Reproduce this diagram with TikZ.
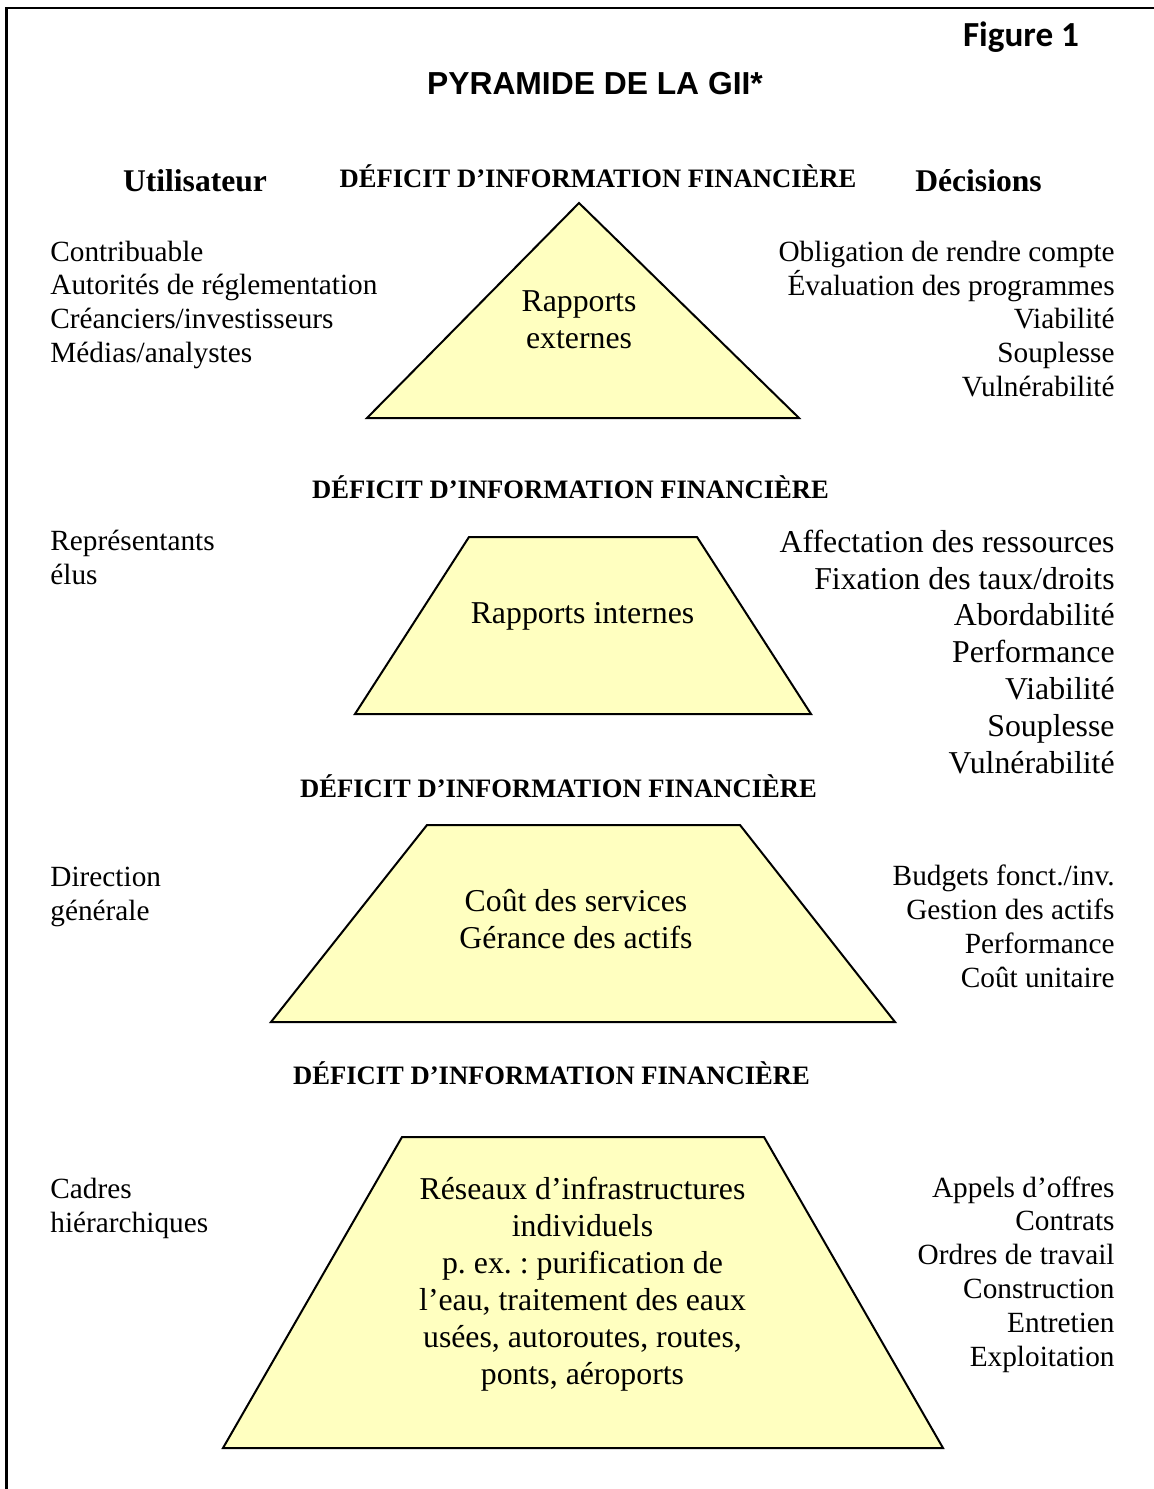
\documentclass[tikz,border=0pt]{standalone}
\usepackage{fontspec}
\setmainfont{Liberation Serif}
\newfontfamily\arialf{Liberation Sans}
\newfontfamily\carlf{Carlito}
\definecolor{pyrfill}{RGB}{255,255,192}
\frenchspacing
\tikzset{
  lbl/.style={inner sep=0pt, font=\fontsize{14.65}{16.9}\selectfont},
  lblL/.style={lbl, anchor=base west, align=left},
  lblR/.style={lbl, anchor=base east, align=right},
  bigR/.style={inner sep=0pt, anchor=base east, align=right, font=\fontsize{15.9}{18.4}\selectfont},
  intxt/.style={inner sep=0pt, anchor=base, align=center, font=\fontsize{15.9}{18.45}\selectfont},
  hdr/.style={inner sep=0pt, anchor=base, font=\bfseries\fontsize{13.3}{16}\selectfont},
  colhead/.style={inner sep=0pt, anchor=base, font=\bfseries\fontsize{15.8}{18}\selectfont},
  pyr/.style={draw=black, line width=1pt, fill=pyrfill, line join=miter},
  frame/.style={draw=black, line width=1.1pt}
}
\begin{document}
\begin{tikzpicture}[x=0.5pt,y=-0.5pt]
\useasboundingbox (0,0) rectangle (1154,1489);
\draw[frame] (6.5,1489) -- (6.5,8) -- (1154,8);

% title
\node[inner sep=0pt, anchor=base, font=\carlf\bfseries\fontsize{17.6}{20}\selectfont] (fig) at (1021,46.5) {Figure 1};
\node[inner sep=0pt, anchor=base, font=\arialf\bfseries\fontsize{15.9}{18}\selectfont] (title) at (595,94.5) {PYRAMIDE DE LA GII*};

\node[colhead] (util) at (195,191) {Utilisateur};
\node[colhead] (dec) at (978.5,191) {Décisions};

% headers
\node[hdr] (h1) at (598,187) {DÉFICIT D’INFORMATION FINANCIÈRE};
\node[hdr] (h2) at (570.5,498) {DÉFICIT D’INFORMATION FINANCIÈRE};
\node[hdr] (h3) at (558.5,797) {DÉFICIT D’INFORMATION FINANCIÈRE};
\node[hdr] (h4) at (551.5,1084) {DÉFICIT D’INFORMATION FINANCIÈRE};

% shapes
\coordinate (t1a) at (579,203);
\coordinate (t1l) at (367,418);
\coordinate (t1r) at (799,418);
\draw[pyr] (t1a) -- (t1r) -- (t1l) -- cycle;

\draw[pyr] (469,537) -- (697,537) -- (811,714) -- (355,714) -- cycle;
\draw[pyr] (427,825) -- (740,825) -- (895,1022) -- (271,1022) -- cycle;
\draw[pyr] (402,1137) -- (764,1137) -- (943,1448) -- (223,1448) -- cycle;

% texts inside (anchor = baseline of the last line)
\node[intxt] (in1) at (579,348.5) {Rapports\\externes};
\node[intxt] (in2) at (582.5,623.5) {Rapports internes};
\node[intxt] (in3) at (576,948.5) {Coût des services\\Gérance des actifs};
\node[intxt] (in4) at (582.5,1384) {Réseaux d’infrastructures\\individuels\\p. ex. : purification de\\l’eau, traitement des eaux\\usées, autoroutes, routes,\\ponts, aéroports};

% left users
\node[lblL] (u1) at (50,362.5) {Contribuable\\Autorités de réglementation\\Créanciers/investisseurs\\Médias/analystes};
\node[lblL] (u2) at (50,584) {Représentants\\élus};
\node[lblL] (u3) at (50,920) {Direction\\générale};
\node[lblL] (u4) at (50,1232) {Cadres\\hiérarchiques};

% right decisions
\node[lblR] (d1) at (1115,396.5) {Obligation de rendre compte\\Évaluation des programmes\\Viabilité\\Souplesse\\Vulnérabilité};
\node[bigR] (d2) at (1115,773) {Affectation des ressources\\Fixation des taux/droits\\Abordabilité\\Performance\\Viabilité\\Souplesse\\Vulnérabilité};
\node[lblR] (d3) at (1115,987) {Budgets fonct./inv.\\Gestion des actifs\\Performance\\Coût unitaire};
\node[lblR] (d4) at (1115,1366) {Appels d’offres\\Contrats\\Ordres de travail\\Construction\\Entretien\\Exploitation};
\end{tikzpicture}
\end{document}
